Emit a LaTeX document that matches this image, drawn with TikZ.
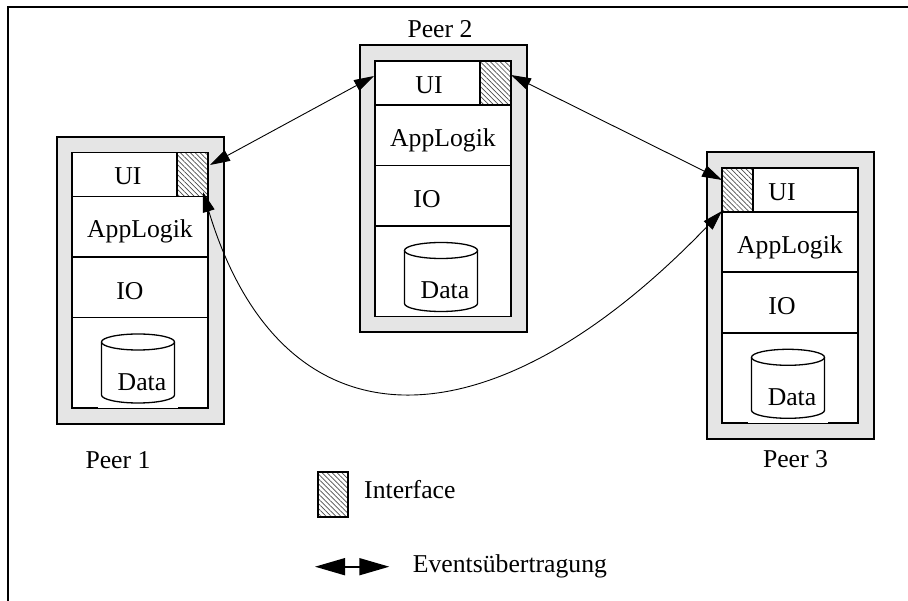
\documentclass[tikz,border=0pt]{standalone}
\usepackage{fontspec}
\setmainfont{Liberation Serif}
\usetikzlibrary{arrows.meta,patterns.meta}
\tikzset{
  frameline/.style={line width=2.3pt},
  shell/.style={draw, line width=2pt, fill=black!10},
  core/.style={draw, line width=1.6pt, fill=white},
  layer/.style={line width=1.6pt},
  ifhatch/.style={draw, line width=1.6pt,
    pattern={Lines[angle=-45,distance=3.5pt,line width=0.7pt]}, pattern color=black!70},
  drum/.style={draw, line width=1.3pt, fill=white},
  lbl/.style={font=\fontsize{25.7}{30}\selectfont, inner sep=0pt, anchor=base},
  event/.style={line width=0.9pt,
    {Triangle[length=20pt,width=12pt]}-{Triangle[length=20pt,width=12pt]}},
  bigevent/.style={line width=1.6pt,
    {Triangle[length=30pt,width=17pt]}-{Triangle[length=30pt,width=17pt]}},
}
% one peer: #1 name, #2/#3 top left corner, #4 left edge of the interface cell,
% #5 x of "UI", #6 x of "IO"
\newcommand\peerstack[6]{%
  \begin{scope}[shift={(#2,#3)}]
    \path[shell] (0,0) rectangle (167,287);
    \path[core] (15,15.5) rectangle (151,271);
    \draw[layer] (15,59.5) -- (151,59.5) (15,120) -- (151,120) (15,180.5) -- (151,180.5);
    \path[ifhatch] (#4,15.5) rectangle ++(31,44);
    \fill[white] (41,205) rectangle (121,271);
    \path[drum] (44.5,205) -- (44.5,258) arc[start angle=180,end angle=0,x radius=36.5,y radius=8] -- (117.5,205);
    \path[drum] (81,205) ellipse[x radius=36.5,y radius=8];
    \node[lbl] (#1-ui) at (#5,48) {UI};
    \node[lbl] (#1-app) at (83,101) {AppLogik};
    \node[lbl] (#1-io) at (#6,162.5) {IO};
    \node[lbl] (#1-data) at (85,253.5) {Data};
  \end{scope}}

\begin{document}
\begin{tikzpicture}[x=1pt,y=-1pt]
  \useasboundingbox (0,0) rectangle (908,601);
  \draw[frameline] (8,605) -- (8,7) -- (912,7);

  \peerstack{p1}{57}{137}{120}{71}{73}
  \peerstack{p2}{360}{45.5}{120}{69}{67}
  \peerstack{p3}{707}{152.3}{15}{75}{75}

  \node[lbl] (p1-name) at (118,468) {Peer 1};
  \node[lbl] (p2-name) at (440,38) {Peer 2};
  \node[lbl] (p3-name) at (795.5,467.5) {Peer 3};

  % connector end points on the interface cells
  \coordinate (p1-ifE) at (210,165);
  \coordinate (p1-ifS) at (203,192);
  \coordinate (p2-uiW) at (374,76);
  \coordinate (p2-ifE) at (511,75);
  \coordinate (p3-ifW) at (722,180);
  \coordinate (p3-ifSW) at (722,211);

  \draw[event] (p1-ifE) -- (p2-uiW);
  \draw[event] (p2-ifE) -- (p3-ifW);
  \draw[event] (p1-ifS) .. controls (282,454) and (489,454) .. (p3-ifSW);

  % legend
  \path[ifhatch, line width=2pt] (317.7,471.7) rectangle (348.3,516.7);
  \node[lbl, anchor=base west] (leg-if) at (364,498.5) {Interface};
  \coordinate (leg-l) at (315,566.7);
  \coordinate (leg-r) at (389.3,566.7);
  \draw[bigevent] (leg-l) -- (leg-r);
  \node[lbl, anchor=base west] (leg-ev) at (412.7,572) {Eventsübertragung};
\end{tikzpicture}
\end{document}
